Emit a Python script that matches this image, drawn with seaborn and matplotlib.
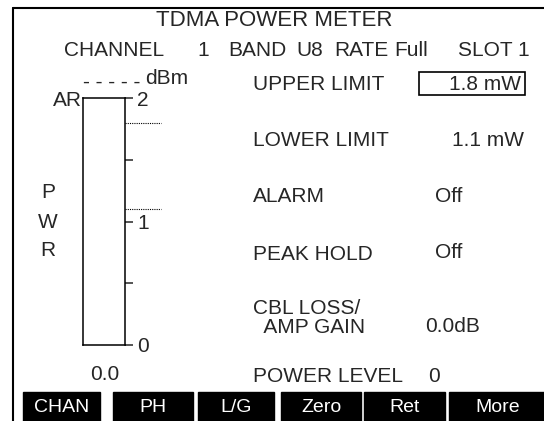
import matplotlib
matplotlib.use("Agg")
import matplotlib.pyplot as plt
import seaborn as sns

# --- screen contents ---
title = "TDMA POWER METER"
header_items = ["CHANNEL", "1", "BAND", "U8", "RATE", "Full", "SLOT 1"]
row_labels = ["UPPER LIMIT", "LOWER LIMIT", "ALARM", "PEAK HOLD", "CBL LOSS/\n  AMP GAIN", "POWER LEVEL"]
row_values = ["1.8 mW", "1.1 mW", "Off", "Off", "0.0dB", "0"]
softkeys = ["CHAN", "PH", "L/G", "Zero", "Ret", "More"]

bar_name = ["PWR"]
power_mw = [0.0]
upper_limit_mw = 1.8
lower_limit_mw = 1.1
scale_ticks = [0, 0.5, 1, 1.5, 2]
scale_labels = ["0", "", "1", "", "2"]
power_readout = "0.0"
unit_text = "dBm"

# --- layout (pixels) ---
W, H = 544, 421
header_x = [64, 197, 228, 296, 334, 394, 458]
row_y = [85, 140, 197, 254, 318, 376]
val_y = [85, 140, 196, 253, 327, 376]
val_x = [521, 524, 435, 435, 425, 428]
val_ha = ["right", "right", "left", "left", "left", "left"]
key_edges = [(23, 100), (113, 193), (198, 274), (281, 361), (364, 445), (449, 546)]
bar_l, bar_r, bar_t, bar_b = 83, 125, 98, 345
FS = 15

sns.set_style("white")
plt.rcParams["font.family"] = ["Liberation Sans", "DejaVu Sans"]

fig = plt.figure(figsize=(W / 100, H / 100), dpi=100)
bg = fig.add_axes([0, 0, 1, 1])
bg.set_xlim(0, W); bg.set_ylim(H, 0); bg.axis("off")

# outer frame
bg.plot([13, 13], [8, H], color="black", lw=1.5)
bg.plot([13, W], [8, 8], color="black", lw=1.5)

bg.text(274, 20, title, fontsize=16, ha="center", va="center")
for x, s in zip(header_x, header_items):
    bg.text(x, 51, s, fontsize=FS, ha="left", va="center")

bg.text(83, 82, "- - - - -", fontsize=FS, ha="left", va="center")
bg.text(145, 79, unit_text, fontsize=FS, ha="left", va="center")
bg.text(82, 101, "AR", fontsize=FS, ha="right", va="center")
for y, ch in zip([193, 222, 250], "PWR"):
    bg.text(48, y, ch, fontsize=FS, ha="center", va="center")
bg.text(105, 375, power_readout, fontsize=FS, ha="center", va="center")

for lab, y in zip(row_labels, row_y):
    bg.text(253, y, lab, fontsize=FS, ha="left", va="center", linespacing=1.0)
for val, x, y, ha in zip(row_values, val_x, val_y, val_ha):
    bg.text(x, y, val, fontsize=FS, ha=ha, va="center")
# highlighted (selected) field box
bg.add_patch(plt.Rectangle((419, 72), 106, 23, fill=False, ec="black", lw=1.2))

# softkeys
for (l, r), k in zip(key_edges, softkeys):
    bg.add_patch(plt.Rectangle((l, 392), r - l, H - 392, color="black"))
    bg.text((l + r) / 2, 407, k, fontsize=14, color="white", ha="center", va="center")

# --- power bar gauge ---
gauge = fig.add_axes([bar_l / W, (H - bar_b) / H, (bar_r - bar_l) / W, (bar_b - bar_t) / H])
gauge.set_facecolor("none")
sns.barplot(x=bar_name, y=power_mw, color="black", width=1.0, ax=gauge)
gauge.set_xlim(-0.5, 0.5)
gauge.set_ylim(0, 2)
gauge.set_xticks([])
gauge.set_xlabel(""); gauge.set_ylabel("")
gauge.yaxis.tick_right()
gauge.set_yticks(scale_ticks)
gauge.set_yticklabels(scale_labels)
gauge.tick_params(axis="y", direction="out", length=6, width=1.1, pad=3, labelsize=FS,
                  right=True, left=False)
for sp in gauge.spines.values():
    sp.set_visible(True)
    sp.set_color("black")
    sp.set_linewidth(1.1)
gauge.hlines([upper_limit_mw, lower_limit_mw], 1.0, 1.85, transform=gauge.get_yaxis_transform(),
             colors="black", linestyles=(0, (1, 1)), lw=0.8, clip_on=False)

fig.savefig("out.png", dpi=100)
